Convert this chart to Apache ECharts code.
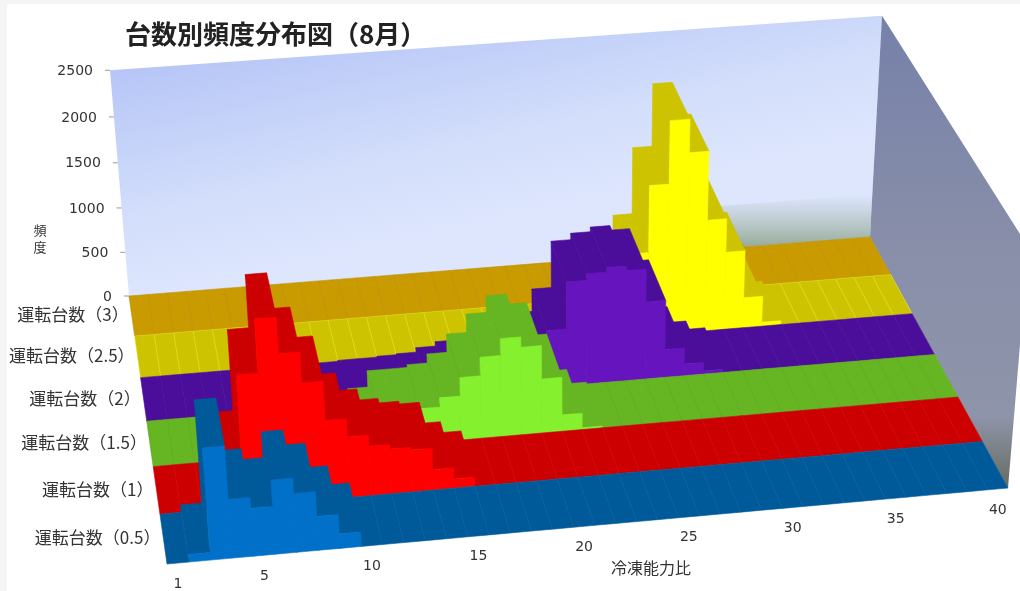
<!DOCTYPE html>
<html>
<head>
<meta charset="utf-8">
<style>
  html, body { margin: 0; padding: 0; background: #f5f5f5; }
  #chart { width: 1020px; height: 591px; filter: blur(0.4px); }
</style>
<script src="https://cdn.jsdelivr.net/npm/echarts@6/dist/echarts.min.js"></script>
</head>
<body>
<div id="chart"></div>
<script>
// 台数別頻度分布図 -- values, index 0 is 冷凍能力比 = 1
const ratios = Array.from({ length: 40 }, (_, i) => i + 1);
const ratioTicks = [1, 5, 10, 15, 20, 25, 30, 35, 40];
const freqTicks = [0, 500, 1000, 1500, 2000, 2500];
// front row first
const rowNames = ['運転台数（0.5）', '運転台数（1）', '運転台数（1.5）', '運転台数（2）', '運転台数（2.5）', '運転台数（3）'];

const run05 = [0, 80, 1170, 620, 505, 780, 620, 360, 155, 0, 0, 0, 0, 0, 0, 0, 0, 0, 0, 0, 0, 0, 0, 0, 0, 0, 0, 0, 0, 0, 0, 0, 0, 0, 0, 0, 0, 0, 0, 0];
const run10 = [0, 0, 0, 530, 1390, 1940, 1570, 1250, 840, 650, 530, 480, 450, 220, 100, 0, 0, 0, 0, 0, 0, 0, 0, 0, 0, 0, 0, 0, 0, 0, 0, 0, 0, 0, 0, 0, 0, 0, 0, 0];
const run15 = [0, 0, 0, 0, 0, 0, 0, 0, 0, 0, 170, 350, 350, 380, 480, 680, 880, 1060, 950, 590, 180, 20, 0, 0, 0, 0, 0, 0, 0, 0, 0, 0, 0, 0, 0, 0, 0, 0, 0, 0];
const run20 = [0, 0, 0, 0, 0, 0, 0, 0, 0, 0, 10, 10, 20, 30, 80, 130, 180, 230, 280, 380, 630, 1140, 1210, 1260, 1210, 850, 310, 130, 35, 0, 0, 0, 0, 0, 0, 0, 0, 0, 0, 0];
const run25 = [0, 0, 0, 0, 0, 0, 0, 0, 0, 0, 0, 0, 0, 0, 0, 0, 0, 0, 0, 0, 0, 10, 30, 80, 400, 930, 1660, 2335, 1980, 1235, 865, 340, 45, 0, 0, 0, 0, 0, 0, 0];
const run30 = [0, 0, 0, 0, 0, 0, 0, 0, 0, 0, 0, 0, 0, 0, 0, 0, 0, 0, 0, 0, 0, 0, 0, 0, 0, 0, 0, 0, 0, 0, 0, 60, 25, 0, 0, 0, 0, 0, 0, 0];
const rows = [run05, run10, run15, run20, run25, run30];

const frontColors = ['#0070c8', '#ff0000', '#85f02e', '#6614be', '#ffff00', '#ffc000'];
const topColors = ['#005a9a', '#cc0000', '#66b522', '#4a0e9a', '#cdc300', '#c99b00'];
const cellLines = ['#005a9a', '#cc0000', '#5aa51d', '#470d96', '#e2da1c', '#b98e00'];

// 床の四隅と奥の壁の上端 (screen position of the plot box)
const floorBL = [129, 296], floorBR = [870, 237], floorFR = [1008, 488], floorFL = [167, 564];
const topBL = [110, 70], topBR = [882, 16];

// unit square -> floor quad, plus a height column fitted to the back wall
function makeProjection() {
  const [x0, y0] = floorFL, [x1, y1] = floorFR, [x2, y2] = floorBR, [x3, y3] = floorBL;
  const dx1 = x1 - x2, dx2 = x3 - x2, sx = x0 - x1 + x2 - x3;
  const dy1 = y1 - y2, dy2 = y3 - y2, sy = y0 - y1 + y2 - y3;
  const den = dx1 * dy2 - dx2 * dy1;
  const g = (sx * dy2 - dx2 * sy) / den;
  const h = (dx1 * sy - sx * dy1) / den;
  const a = x1 - x0 + g * x1, b = x3 - x0 + h * x3;
  const d = y1 - y0 + g * y1, e = y3 - y0 + h * y3;
  const base = (u, v) => [a * u + b * v + x0, d * u + e * v + y0, g * u + h * v + 1];
  const bl = base(0, 1), br = base(1, 1);
  const rhsL = topBL[0] * bl[2] - bl[0], rhsR = topBR[0] * br[2] - br[0];
  const r = (rhsL - rhsR) / (topBR[0] - topBL[0]);
  const p = rhsL + topBL[0] * r;
  const q = ((topBL[1] * bl[2] - bl[1] + topBL[1] * r) + (topBR[1] * br[2] - br[1] + topBR[1] * r)) / 2;
  return (u, v, t) => {
    const [X, Y, W] = base(u, v);
    const w = W + r * t;
    return [(X + p * t) / w, (Y + q * t) / w];
  };
}
const project = makeProjection();

function renderBar(params, api) {
  const cs = params.coordSys;
  const row = api.value(2);
  const left = api.coord([api.value(0) - 1, api.value(1)]);
  const right = api.coord([api.value(0), api.value(1)]);
  const u0 = (left[0] - cs.x) / cs.width;
  const u1 = (right[0] - cs.x) / cs.width;
  const t = (cs.y + cs.height - left[1]) / cs.height;
  const v0 = row / rows.length, v1 = (row + 1) / rows.length;
  const poly = (pts, fill, stroke) => ({
    type: 'polygon',
    shape: { points: pts },
    style: { fill: fill, stroke: stroke || fill, lineWidth: 0.6 },
    silent: true
  });
  const children = [];
  if (t > 0) {
    children.push(poly([project(u0, v1, 0), project(u0, v0, 0), project(u0, v0, t), project(u0, v1, t)], topColors[row]));
  }
  children.push(poly([project(u0, v1, t), project(u1, v1, t), project(u1, v0, t), project(u0, v0, t)], topColors[row], t > 0 ? topColors[row] : cellLines[row]));
  if (t > 0) {
    children.push(poly([project(u0, v0, 0), project(u1, v0, 0), project(u1, v0, t), project(u0, v0, t)], frontColors[row]));
  }
  return { type: 'group', children: children };
}

// back row first, right to left inside a row, so nearer faces paint over
const series = rows.map((vals, k) => k).reverse().map(k => ({
  type: 'custom',
  name: rowNames[k],
  coordinateSystem: 'cartesian2d',
  renderItem: renderBar,
  clip: false,
  silent: true,
  animation: false,
  progressive: 0,
  encode: { x: 0, y: 1 },
  data: ratios.map((r, i) => [r, rows[k][i], k]).reverse()
}));

const numFont = '"DejaVu Sans", sans-serif';
const jpFont = '"Noto Sans CJK JP", sans-serif';

function text(x, y, str, size, align, family, weight, color) {
  return {
    type: 'text', x: x, y: y, silent: true,
    style: { text: str, fill: color || '#333', font: (weight || 'normal') + ' ' + size + 'px ' + family, align: align || 'center', verticalAlign: 'middle' }
  };
}

function wallPolygon(pts, fill) {
  return { type: 'polygon', shape: { points: pts }, style: { fill: fill }, silent: true };
}

function buildGraphic() {
  const grad = (x0, y0, x1, y1, stops) => new echarts.graphic.LinearGradient(x0, y0, x1, y1, stops);
  const backTL = project(0, 1, 1), backTR = project(1, 1, 1), frontTR = project(1, 0, 1);
  const els = [
    { type: 'rect', shape: { x: 7, y: 4, width: 1013, height: 587 }, style: { fill: '#fff' }, silent: true },
    wallPolygon([backTL, backTR, project(1, 1, 0), project(0, 1, 0)], grad(0, 0, 0.08, 1, [
      { offset: 0, color: '#adbcf5' }, { offset: 0.35, color: '#bfcdf8' }, { offset: 0.7, color: '#d3defb' }, { offset: 1, color: '#dde6fd' }
    ])),
    // 壁の根元の影
    wallPolygon([project(0.76, 1, 0.2), project(1, 1, 0.2), project(1, 1, 0), project(0.76, 1, 0)], grad(0, 0, 0, 1, [
      { offset: 0, color: 'rgba(150,170,150,0)' }, { offset: 1, color: 'rgba(130,155,125,0.85)' }
    ])),
    wallPolygon([backTR, frontTR, project(1, 0, 0), project(1, 1, 0)], grad(0, 0, 0, 1, [
      { offset: 0, color: '#7681aa' }, { offset: 0.5, color: '#898fa9' }, { offset: 0.85, color: '#8e94a9' }, { offset: 1, color: '#666b60' }
    ]))
  ];
  freqTicks.forEach(v => {
    const p = project(0, 1, v / 2500);
    els.push({ type: 'line', shape: { x1: p[0] - 5, y1: p[1], x2: p[0], y2: p[1] }, style: { stroke: '#999', lineWidth: 1 }, silent: true });
    els.push(text(p[0] - 17, p[1] + 1, String(v), 14, 'right', numFont));
  });
  rowNames.forEach((name, k) => {
    const p = project(0, (k + 0.5) / rows.length, 0);
    els.push(text(p[0] - 3, p[1] - 1, name, 17, 'right', jpFont));
  });
  ratioTicks.forEach(r => {
    const p = project((r - 0.5) / ratios.length, 0, 0);
    els.push(text(p[0], p[1] + 21, String(r), 14, 'center', numFont));
  });
  els.push(text(651, 568, '冷凍能力比', 16, 'center', jpFont));
  els.push(text(40, 230, '頻', 13, 'center', jpFont));
  els.push(text(40, 247, '度', 13, 'center', jpFont));
  els.push(text(125, 34, '台数別頻度分布図（8月）', 26, 'left', jpFont, 'bold', '#222'));
  return els;
}

const chart = echarts.init(document.getElementById('chart'), null, { renderer: 'canvas' });
chart.setOption({
  animation: false,
  backgroundColor: '#f5f5f5',
  grid: { left: 0, right: 0, top: 0, bottom: 0 },
  xAxis: { type: 'value', min: 0, max: ratios.length, show: false },
  yAxis: { type: 'value', min: 0, max: 2500, show: false },
  tooltip: { show: false },
  graphic: { elements: buildGraphic() },
  series: series
});
</script>
</body>
</html>
